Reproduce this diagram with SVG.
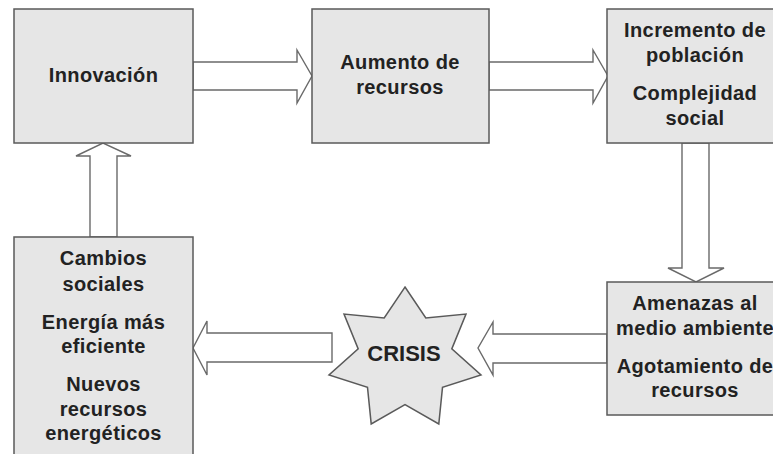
<svg xmlns="http://www.w3.org/2000/svg" width="773" height="454" viewBox="0 0 773 454">
<style>
.box{fill:#e6e6e6;stroke:#5a5a5a;stroke-width:1.5}
.arr{fill:#ffffff;stroke:#6a6a6a;stroke-width:1.4;stroke-linejoin:miter}
.t{font-family:"Liberation Sans",Arial,sans-serif;font-weight:bold;font-size:20px;fill:#222;text-anchor:middle;letter-spacing:0.4px}
.c{font-size:22px;letter-spacing:0}
</style>
<rect width="773" height="454" fill="#ffffff"/>
<g id="connectors">
<polygon class="arr" points="193,62 297,62 297,50 312,76 297,103 297,90 193,90"/>
<polygon class="arr" points="489,62 593,62 593,50 608,76 593,103 593,90 489,90"/>
<polygon class="arr" points="682,143 682,268 668,268 696,282 724,268 709,268 709,143"/>
<polygon class="arr" points="607,334 493,334 493,322 478,348 493,375 493,363 607,363"/>
<polygon class="arr" points="332,333 207,333 207,321 193,348 207,375 207,362 332,362"/>
<polygon class="arr" points="90,237 90,156 76,156 103,143 131,156 117,156 117,237"/>
</g>
<g id="innovacion">
<rect class="box" x="14" y="9" width="179" height="134"/>
<text class="t" x="103.5" y="82">Innovación</text>
</g>
<g id="aumento">
<rect class="box" x="312" y="9" width="177" height="134"/>
<text class="t" x="400" y="69">Aumento de</text>
<text class="t" x="400" y="94">recursos</text>
</g>
<g id="incremento">
<rect class="box" x="607" y="9" width="177" height="134"/>
<text class="t" x="695" y="37">Incremento de</text>
<text class="t" x="695" y="62">población</text>
<text class="t" x="695" y="100">Complejidad</text>
<text class="t" x="695" y="125">social</text>
</g>
<g id="amenazas">
<rect class="box" x="607" y="282" width="177" height="133"/>
<text class="t" x="695" y="310">Amenazas al</text>
<text class="t" x="695" y="335">medio ambiente</text>
<text class="t" x="695" y="373">Agotamiento de</text>
<text class="t" x="695" y="397">recursos</text>
</g>
<g id="crisis">
<polygon class="box" points="405,287 425.8,318 466,314.1 451.8,348.9 481,375 442.5,387.4 438.8,423.9 405,404.5 371.2,423.9 367.5,387.4 329,375 358.2,348.9 344,314.1 384.2,318"/>
<text class="t c" x="404" y="361">CRISIS</text>
</g>
<g id="cambios">
<rect class="box" x="14" y="237" width="179" height="230"/>
<text class="t" x="103.5" y="265">Cambios</text>
<text class="t" x="103.5" y="291">sociales</text>
<text class="t" x="103.5" y="329">Energía más</text>
<text class="t" x="103.5" y="353">eficiente</text>
<text class="t" x="103.5" y="391">Nuevos</text>
<text class="t" x="103.5" y="416">recursos</text>
<text class="t" x="103.5" y="440">energéticos</text>
</g>
</svg>
